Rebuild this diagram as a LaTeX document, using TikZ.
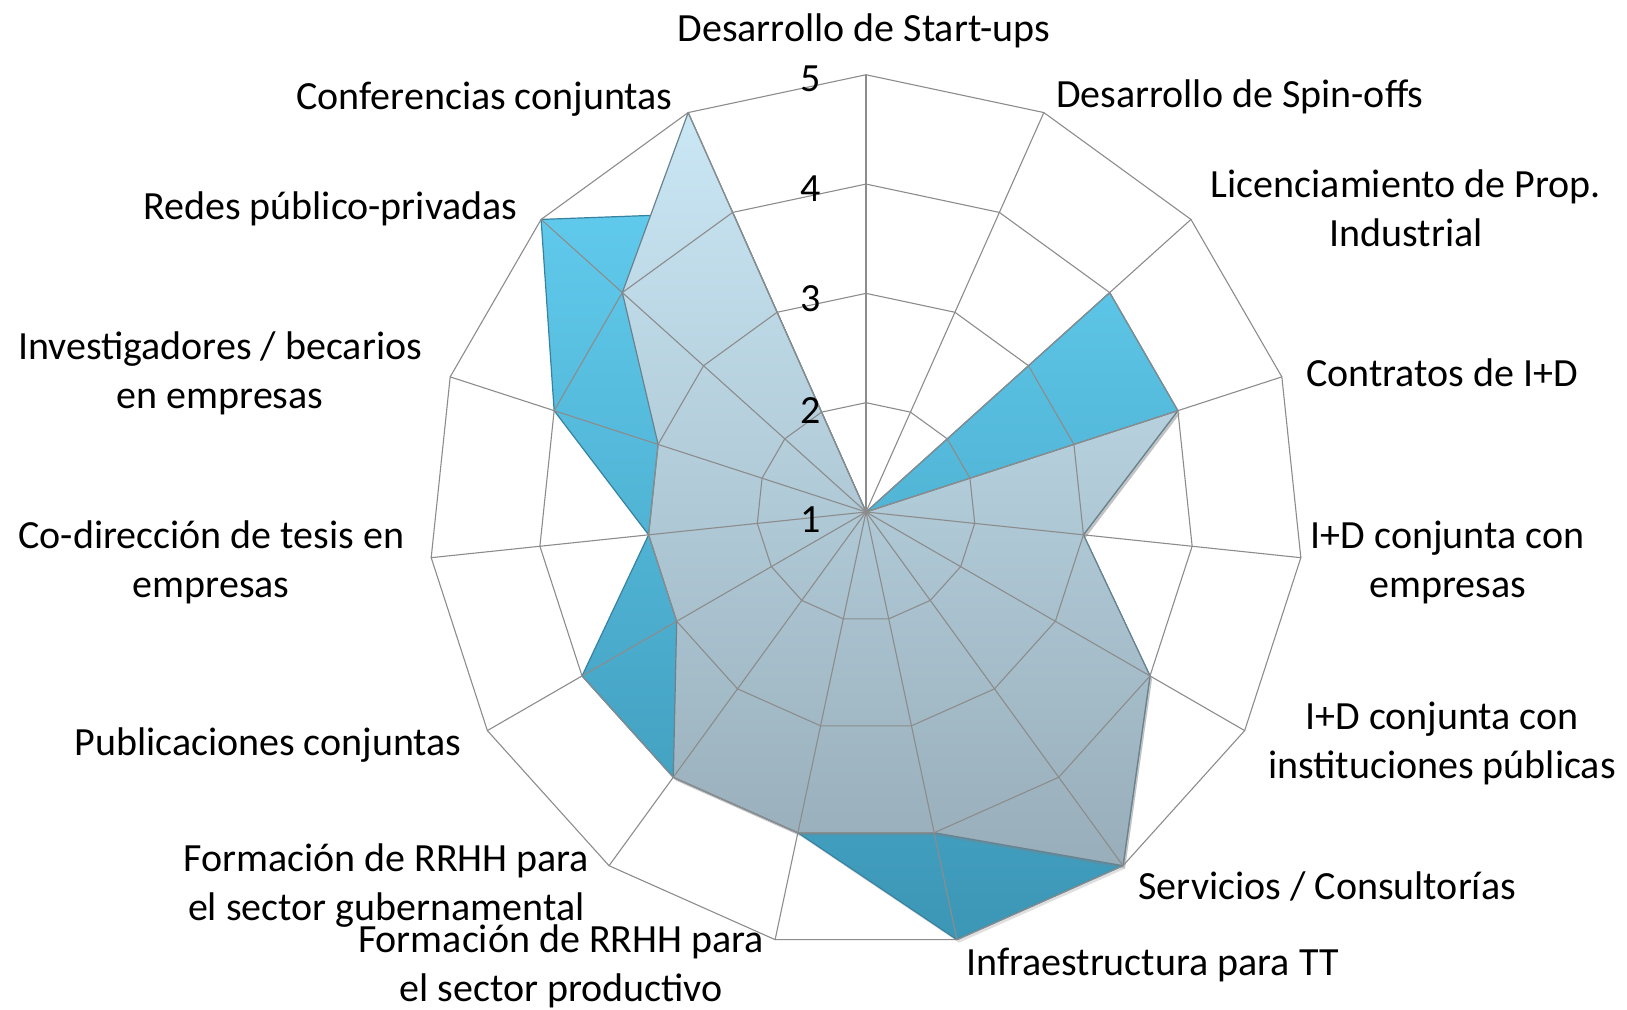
\documentclass[tikz,border=0pt]{standalone}
\usepackage{fontspec}
\setmainfont{Carlito}
\usepackage{tikz}
\usetikzlibrary{shadows}
\definecolor{gridgray}{RGB}{140,140,140}
\definecolor{darkTop}{RGB}{96,202,236}
\definecolor{darkBottom}{RGB}{60,150,182}
\definecolor{darkEdge}{RGB}{55,130,160}
\definecolor{lightTop}{RGB}{202,231,245}
\definecolor{lightBottom}{RGB}{152,174,186}
\definecolor{lightEdge}{RGB}{105,130,142}

\begin{document}
\begin{tikzpicture}[line cap=round,line join=round,x=109.3pt,y=109.3pt,
  axislabel/.style={font=\fontsize{40}{48.8}\selectfont,align=center,inner sep=0pt},
  gridline/.style={draw=gridgray,line width=1.1pt},
  seriesdark/.style={top color=darkTop,bottom color=darkBottom,draw=darkEdge,line width=1.2pt,
    drop shadow={shadow xshift=2pt,shadow yshift=-3pt,opacity=0.25}},
  serieslight/.style={top color=lightTop,bottom color=lightBottom,draw=lightEdge,line width=1.2pt,
    drop shadow={shadow xshift=2pt,shadow yshift=-3pt,opacity=0.3}}]
\useasboundingbox (-7.923,-4.556) rectangle (6.962,4.684);
% series
\draw[seriesdark] (90:0) -- (66:0) -- (42:3) -- (18:3) -- (-6:2) -- (-30:3) -- (-54:4) -- (-78:4) -- (-102:3) -- (-126:3) -- (-150:3) -- (-174:2) -- (162:3) -- (138:4) -- (114:3) -- cycle;
\draw[serieslight] (90:0) -- (66:0) -- (42:0) -- (18:3) -- (-6:2) -- (-30:3) -- (-54:4) -- (-78:3) -- (-102:3) -- (-126:3) -- (-150:2) -- (-174:2) -- (162:2) -- (138:3) -- (114:4) -- cycle;
% rings
\draw[gridline] (90:1) -- (66:1) -- (42:1) -- (18:1) -- (-6:1) -- (-30:1) -- (-54:1) -- (-78:1) -- (-102:1) -- (-126:1) -- (-150:1) -- (-174:1) -- (162:1) -- (138:1) -- (114:1) -- cycle;
\draw[gridline] (90:2) -- (66:2) -- (42:2) -- (18:2) -- (-6:2) -- (-30:2) -- (-54:2) -- (-78:2) -- (-102:2) -- (-126:2) -- (-150:2) -- (-174:2) -- (162:2) -- (138:2) -- (114:2) -- cycle;
\draw[gridline] (90:3) -- (66:3) -- (42:3) -- (18:3) -- (-6:3) -- (-30:3) -- (-54:3) -- (-78:3) -- (-102:3) -- (-126:3) -- (-150:3) -- (-174:3) -- (162:3) -- (138:3) -- (114:3) -- cycle;
\draw[gridline] (90:4) -- (66:4) -- (42:4) -- (18:4) -- (-6:4) -- (-30:4) -- (-54:4) -- (-78:4) -- (-102:4) -- (-126:4) -- (-150:4) -- (-174:4) -- (162:4) -- (138:4) -- (114:4) -- cycle;
% spokes
\draw[gridline] (0,0) -- (90:4);
\draw[gridline] (0,0) -- (66:4);
\draw[gridline] (0,0) -- (42:4);
\draw[gridline] (0,0) -- (18:4);
\draw[gridline] (0,0) -- (-6:4);
\draw[gridline] (0,0) -- (-30:4);
\draw[gridline] (0,0) -- (-54:4);
\draw[gridline] (0,0) -- (-78:4);
\draw[gridline] (0,0) -- (-102:4);
\draw[gridline] (0,0) -- (-126:4);
\draw[gridline] (0,0) -- (-150:4);
\draw[gridline] (0,0) -- (-174:4);
\draw[gridline] (0,0) -- (162:4);
\draw[gridline] (0,0) -- (138:4);
\draw[gridline] (0,0) -- (114:4);
% scale
\draw (-0.41,3.96) node[axislabel,anchor=east] {5};
\draw (-0.41,2.96) node[axislabel,anchor=east] {4};
\draw (-0.41,1.95) node[axislabel,anchor=east] {3};
\draw (-0.41,0.93) node[axislabel,anchor=east] {2};
\draw (-0.41,-0.07) node[axislabel,anchor=east] {1};
% categories
\draw (-0.02,4.40) node[axislabel] (startups) {Desarrollo de Start-ups};
\draw (3.42,3.80) node[axislabel] (spinoffs) {Desarrollo de Spin-offs};
\draw (4.94,2.78) node[axislabel] (licencia) {Licenciamiento de Prop.\\Industrial};
\draw (5.27,1.27) node[axislabel] (contratos) {Contratos de I+D};
\draw (5.32,-0.46) node[axislabel] (idempresas) {I+D conjunta con\\empresas};
\draw (5.27,-2.12) node[axislabel] (idinstit) {I+D conjunta con\\instituciones públicas};
\draw (4.22,-3.43) node[axislabel] (servicios) {Servicios / Consultorías};
\draw (2.62,-4.14) node[axislabel] (infra) {Infraestructura para TT};
\draw (-2.79,-4.16) node[axislabel] (formprod) {Formación de RRHH para\\el sector productivo};
\draw (-4.39,-3.42) node[axislabel] (formgob) {Formación de RRHH para\\el sector gubernamental};
\draw (-5.47,-2.13) node[axislabel] (publica) {Publicaciones conjuntas};
\draw (-5.99,-0.46) node[axislabel] (codir) {Co-dirección de tesis en\\empresas};
\draw (-5.91,1.27) node[axislabel] (investig) {Investigadores / becarios\\en empresas};
\draw (-4.90,2.77) node[axislabel] (redes) {Redes público-privadas};
\draw (-3.49,3.78) node[axislabel] (confer) {Conferencias conjuntas};
\end{tikzpicture}
\end{document}
